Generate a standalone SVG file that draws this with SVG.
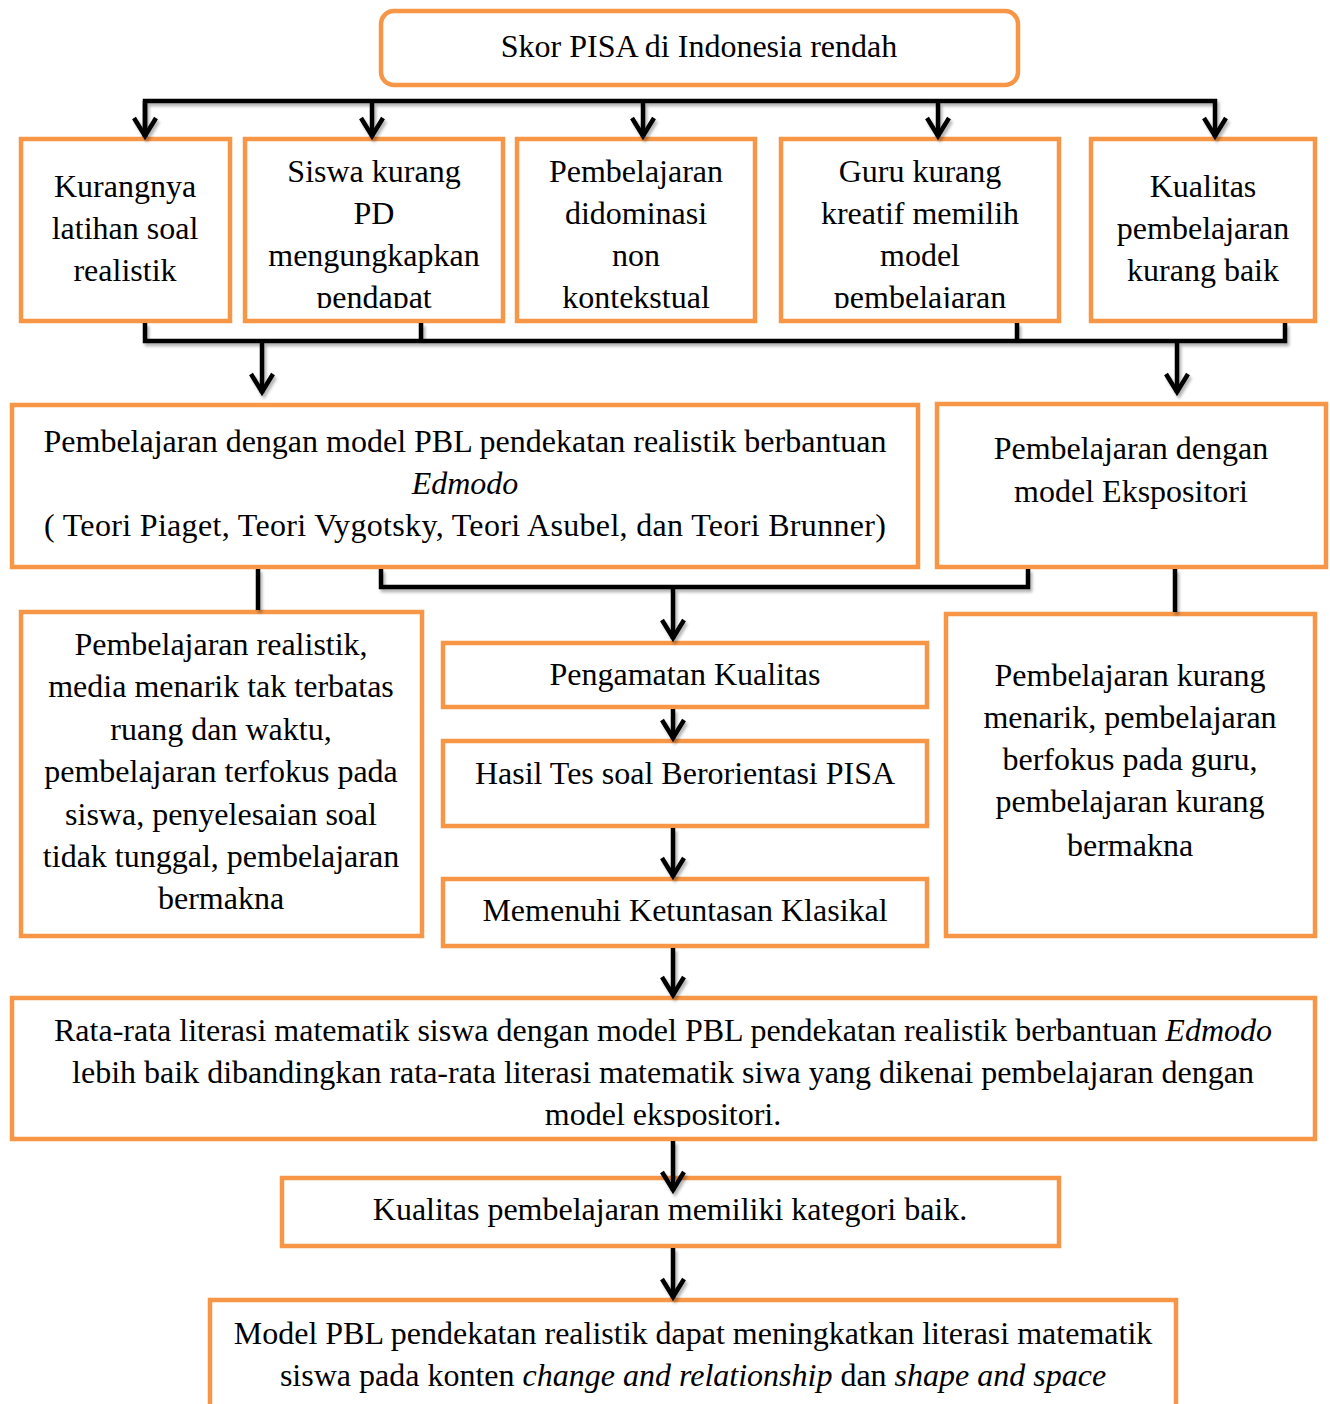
<svg xmlns="http://www.w3.org/2000/svg" width="1330" height="1404" viewBox="0 0 1330 1404">
  <style>
    .box { fill: #ffffff; stroke: #F79646; stroke-width: 4.5; }
    .t { font-family: "Liberation Serif", "Times New Roman", serif; font-size: 32px; fill: #000000; text-anchor: middle; }
    .i { font-style: italic; }
    .ln { fill: none; stroke: #000000; stroke-width: 4.5; stroke-linejoin: miter; }
  </style>
  <defs>
    <marker id="arr" markerUnits="userSpaceOnUse" viewBox="-24 -14 28 28" refX="0" refY="0" markerWidth="28" markerHeight="28" orient="auto">
      <path d="M-19,-11 L-1,0 L-19,11" fill="none" stroke="#000000" stroke-width="4.5" stroke-linejoin="miter"/>
    </marker>
    <filter id="shadow" x="-5%" y="-5%" width="110%" height="110%">
      <feDropShadow dx="2" dy="3" stdDeviation="1.5" flood-color="#000000" flood-opacity="0.3"/>
    </filter>
    <clipPath id="clipRow"><rect x="0" y="141" width="1330" height="167"/></clipPath>
    <clipPath id="clipRata"><rect x="0" y="1000" width="1330" height="127"/></clipPath>
  </defs>

  <g id="n-skor">
    <rect class="box" x="381" y="11" width="637" height="74" rx="13"/>
    <text class="t" x="699" y="57">Skor PISA di Indonesia rendah</text>
  </g>

  <g id="n-latihan">
    <rect class="box" x="21" y="139" width="209" height="182"/>
    <text class="t" x="125" y="197">Kurangnya</text>
    <text class="t" x="125" y="239">latihan soal</text>
    <text class="t" x="125" y="281">realistik</text>
  </g>

  <g id="n-siswa">
    <rect class="box" x="245" y="139" width="258" height="182"/>
    <g clip-path="url(#clipRow)">
      <text class="t" x="374" y="182">Siswa kurang</text>
      <text class="t" x="374" y="224">PD</text>
      <text class="t" x="374" y="266">mengungkapkan</text>
      <text class="t" x="374" y="308">pendapat</text>
    </g>
  </g>

  <g id="n-nonkontekstual">
    <rect class="box" x="517" y="139" width="238" height="182"/>
    <g clip-path="url(#clipRow)">
      <text class="t" x="636" y="182">Pembelajaran</text>
      <text class="t" x="636" y="224">didominasi</text>
      <text class="t" x="636" y="266">non</text>
      <text class="t" x="636" y="308">kontekstual</text>
    </g>
  </g>

  <g id="n-guru">
    <rect class="box" x="781" y="139" width="278" height="182"/>
    <g clip-path="url(#clipRow)">
      <text class="t" x="920" y="182">Guru kurang</text>
      <text class="t" x="920" y="224">kreatif memilih</text>
      <text class="t" x="920" y="266">model</text>
      <text class="t" x="920" y="308">pembelajaran</text>
    </g>
  </g>

  <g id="n-kualitas-kurang">
    <rect class="box" x="1091" y="139" width="224" height="182"/>
    <text class="t" x="1203" y="197">Kualitas</text>
    <text class="t" x="1203" y="239">pembelajaran</text>
    <text class="t" x="1203" y="281">kurang baik</text>
  </g>

  <g id="n-pbl">
    <rect class="box" x="12" y="405" width="906" height="162"/>
    <text class="t" x="465" y="452">Pembelajaran dengan model PBL pendekatan realistik berbantuan</text>
    <text class="t i" x="465" y="494">Edmodo</text>
    <text class="t" x="465" y="536" textLength="842" lengthAdjust="spacing">( Teori Piaget, Teori Vygotsky, Teori Asubel, dan Teori Brunner)</text>
  </g>

  <g id="n-ekspositori">
    <rect class="box" x="937" y="404" width="389" height="163"/>
    <text class="t" x="1131" y="459">Pembelajaran dengan</text>
    <text class="t" x="1131" y="502">model Ekspositori</text>
  </g>

  <g id="n-kelebihan">
    <rect class="box" x="21" y="612" width="401" height="324"/>
    <text class="t" x="221" y="655">Pembelajaran realistik,</text>
    <text class="t" x="221" y="697">media menarik tak terbatas</text>
    <text class="t" x="221" y="740">ruang dan waktu,</text>
    <text class="t" x="221" y="782">pembelajaran terfokus pada</text>
    <text class="t" x="221" y="825">siswa, penyelesaian soal</text>
    <text class="t" x="221" y="867">tidak tunggal, pembelajaran</text>
    <text class="t" x="221" y="909">bermakna</text>
  </g>

  <g id="n-pengamatan">
    <rect class="box" x="443" y="643" width="484" height="64"/>
    <text class="t" x="685" y="685">Pengamatan Kualitas</text>
  </g>

  <g id="n-hasil">
    <rect class="box" x="443" y="741" width="484" height="85"/>
    <text class="t" x="685" y="784">Hasil Tes soal Berorientasi PISA</text>
  </g>

  <g id="n-ketuntasan">
    <rect class="box" x="443" y="879" width="484" height="67"/>
    <text class="t" x="685" y="921">Memenuhi Ketuntasan Klasikal</text>
  </g>

  <g id="n-kekurangan">
    <rect class="box" x="946" y="614" width="369" height="322"/>
    <text class="t" x="1130" y="686">Pembelajaran kurang</text>
    <text class="t" x="1130" y="728">menarik, pembelajaran</text>
    <text class="t" x="1130" y="770">berfokus pada guru,</text>
    <text class="t" x="1130" y="812">pembelajaran kurang</text>
    <text class="t" x="1130" y="856">bermakna</text>
  </g>

  <g id="n-rata">
    <rect class="box" x="12" y="998" width="1303" height="141"/>
    <g clip-path="url(#clipRata)">
      <text class="t" x="663" y="1041">Rata-rata literasi matematik siswa dengan model PBL pendekatan realistik berbantuan <tspan class="i">Edmodo</tspan></text>
      <text class="t" x="663" y="1083">lebih baik dibandingkan rata-rata literasi matematik siwa yang dikenai pembelajaran dengan</text>
      <text class="t" x="663" y="1125">model ekspositori.</text>
    </g>
  </g>

  <g id="n-kategori">
    <rect class="box" x="282" y="1178" width="777" height="68"/>
    <text class="t" x="670" y="1220">Kualitas pembelajaran memiliki kategori baik.</text>
  </g>

  <g id="n-kesimpulan">
    <rect class="box" x="210" y="1300" width="966" height="130"/>
    <text class="t" x="693" y="1344">Model PBL pendekatan realistik dapat meningkatkan literasi matematik</text>
    <text class="t" x="693" y="1386">siswa pada konten <tspan class="i">change and relationship</tspan> dan <tspan class="i">shape and space</tspan></text>
  </g>

  <!-- connectors, drawn over the boxes -->
  <g id="connectors" filter="url(#shadow)">
    <!-- top fan-out -->
    <path class="ln" d="M145,137 V101 H1215 V137" marker-end="url(#arr)"/>
    <path class="ln" d="M145,101 V137" marker-end="url(#arr)"/>
    <path class="ln" d="M372,101 V137" marker-end="url(#arr)"/>
    <path class="ln" d="M643,101 V137" marker-end="url(#arr)"/>
    <path class="ln" d="M938,101 V137" marker-end="url(#arr)"/>
    <!-- collector under the five causes -->
    <path class="ln" d="M145,323 V341 H1285 V323"/>
    <path class="ln" d="M421,323 V341"/>
    <path class="ln" d="M1017,323 V341"/>
    <path class="ln" d="M262,341 V393" marker-end="url(#arr)"/>
    <path class="ln" d="M1177,341 V393" marker-end="url(#arr)"/>
    <!-- from the two learning models -->
    <path class="ln" d="M258,569 V610"/>
    <path class="ln" d="M381,569 V587 H1028 V569"/>
    <path class="ln" d="M673,587 V639" marker-end="url(#arr)"/>
    <path class="ln" d="M1175,569 V612"/>
    <!-- central chain -->
    <path class="ln" d="M673,709 V739" marker-end="url(#arr)"/>
    <path class="ln" d="M673,828 V877" marker-end="url(#arr)"/>
    <path class="ln" d="M673,948 V996" marker-end="url(#arr)"/>
    <path class="ln" d="M673,1141 V1191" marker-end="url(#arr)"/>
    <path class="ln" d="M673,1248 V1298" marker-end="url(#arr)"/>
  </g>
</svg>
